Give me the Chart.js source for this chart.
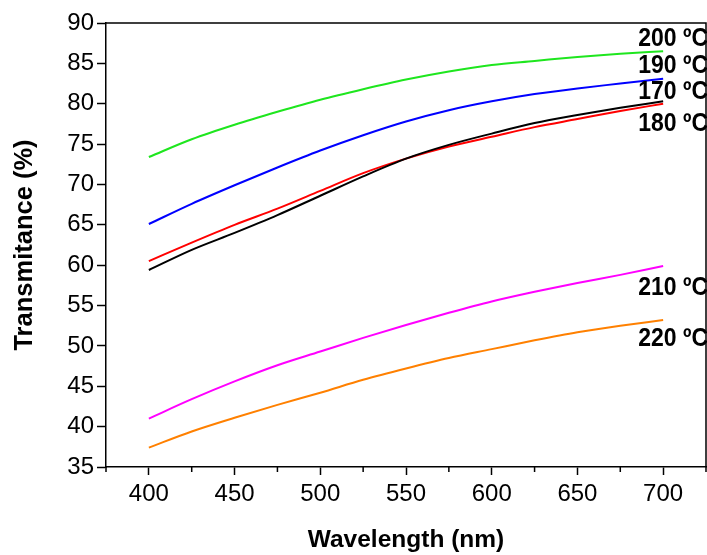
<!DOCTYPE html>
<html>
<head>
<meta charset="utf-8">
<script src="https://cdn.jsdelivr.net/npm/chart.js@4"></script>
<style>
  html, body { margin: 0; padding: 0; background: #fff; }
  #wrap { width: 707px; height: 555px; }
</style>
</head>
<body>
<div id="wrap"><canvas id="myChart" width="707" height="555"></canvas></div>
<script>
// wavelength points (nm)
const wavelengths = [400, 425, 450, 475, 500, 525, 550, 575, 600, 625, 650, 675, 700];

// transmittance (%) per annealing temperature
const t170 = [59.4, 61.9, 64.0, 66.2, 68.6, 71.0, 73.2, 74.9, 76.3, 77.6, 78.6, 79.5, 80.3];
const t180 = [60.5, 62.8, 65.0, 67.0, 69.2, 71.4, 73.2, 74.7, 75.9, 77.1, 78.1, 79.1, 80.0];
const t190 = [65.1, 67.6, 69.9, 72.1, 74.2, 76.1, 77.8, 79.2, 80.3, 81.2, 81.9, 82.5, 83.1];
const t200 = [73.4, 75.6, 77.4, 79.0, 80.5, 81.8, 83.0, 84.0, 84.8, 85.3, 85.8, 86.2, 86.5];
const t210 = [41.0, 43.4, 45.6, 47.6, 49.3, 51.0, 52.6, 54.1, 55.5, 56.7, 57.8, 58.8, 59.9];
const t220 = [37.4, 39.4, 41.1, 42.7, 44.2, 45.8, 47.2, 48.5, 49.6, 50.7, 51.7, 52.5, 53.2];

// tick values
const xMajorTicks = [400, 450, 500, 550, 600, 650, 700];
const xMinorTicks = [375, 425, 475, 525, 575, 625, 675, 725];

// end labels and the value they sit at
const curveLabels = ['200 ºC', '190 ºC', '170 ºC', '180 ºC', '210 ºC', '220 ºC'];
const labelValues = [88.1, 84.7, 81.5, 77.5, 57.2, 50.9];

const FONT = '"Liberation Sans", Arial, sans-serif';

function pts(arr) {
  return arr.map((v, i) => ({ x: wavelengths[i], y: v }));
}

function ds(arr, color) {
  return {
    data: pts(arr),
    borderColor: color,
    borderWidth: 2,
    pointRadius: 0,
    cubicInterpolationMode: 'monotone',
    fill: false
  };
}

// frame, minor ticks and curve labels
const extras = {
  id: 'extras',
  afterDraw(chart) {
    const { ctx, chartArea: a, scales } = chart;
    ctx.save();
    ctx.strokeStyle = '#000';
    ctx.lineWidth = 1.5;
    ctx.beginPath();
    ctx.moveTo(a.left, a.top);
    ctx.lineTo(a.right, a.top);
    ctx.lineTo(a.right, a.bottom);
    ctx.stroke();

    ctx.beginPath();
    xMinorTicks.forEach(v => {
      const px = scales.x.getPixelForValue(v);
      ctx.moveTo(px, a.bottom);
      ctx.lineTo(px, a.bottom + 5);
    });
    ctx.stroke();

    // text in the source is a bit taller than wide, so stretch vertically
    ctx.fillStyle = '#000';
    ctx.font = 'bold 23px ' + FONT;
    ctx.textAlign = 'right';
    ctx.textBaseline = 'middle';
    curveLabels.forEach((t, i) => {
      const py = scales.y.getPixelForValue(labelValues[i]);
      ctx.save();
      ctx.translate(a.right + 2, py);
      ctx.scale(1, 1.15);
      ctx.fillText(t, 0, 0);
      ctx.restore();
    });
    ctx.restore();
  }
};

const ctx = document.getElementById('myChart');

new Chart(ctx, {
  type: 'line',
  data: {
    datasets: [
      ds(t200, '#1ee61e'),
      ds(t190, '#0000ff'),
      ds(t170, '#000000'),
      ds(t180, '#ff0000'),
      ds(t210, '#ff00ff'),
      ds(t220, '#ff8000')
    ]
  },
  options: {
    responsive: false,
    animation: false,
    layout: { padding: { left: 0, top: 23, right: 1, bottom: 0 } },
    plugins: { legend: { display: false }, tooltip: { enabled: false } },
    scales: {
      x: {
        type: 'linear',
        min: 375,
        max: 725,
        afterBuildTicks: s => { s.ticks = xMajorTicks.map(v => ({ value: v })); },
        afterFit: s => { s.height = 88; },
        grid: { drawOnChartArea: false, tickLength: 8, tickColor: '#000', tickWidth: 1.5 },
        border: { color: '#000', width: 1.5 },
        ticks: { color: '#000', font: { family: FONT, size: 24 }, padding: 5, maxRotation: 0 },
        title: {
          display: true,
          text: 'Wavelength (nm)',
          color: '#000',
          font: { family: FONT, size: 24.5, weight: 'bold' },
          padding: { top: 0, bottom: 0 }
        }
      },
      y: {
        min: 35,
        max: 90,
        ticks: { stepSize: 5, color: '#000', font: { family: FONT, size: 24 }, padding: 3 },
        afterFit: s => { s.width = 106; },
        grid: { drawOnChartArea: false, tickLength: 9, tickColor: '#000', tickWidth: 1.5 },
        border: { color: '#000', width: 1.5 },
        title: {
          display: true,
          text: 'Transmitance (%)',
          color: '#000',
          font: { family: FONT, size: 25.5, weight: 'bold' },
          padding: { top: 10, bottom: 0 }
        }
      }
    }
  },
  plugins: [extras]
});
</script>
</body>
</html>
